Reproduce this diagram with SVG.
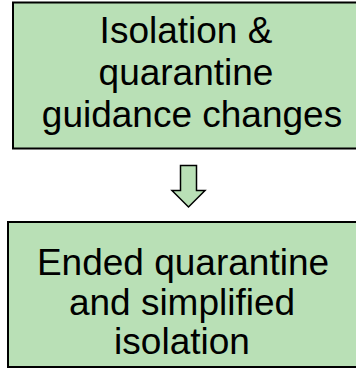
<svg xmlns="http://www.w3.org/2000/svg" width="356" height="369" viewBox="0 0 356 369">
<style>
.box{fill:#b9e0b6;stroke:#000;stroke-width:2}
.t{font-family:"Liberation Sans",Arial,sans-serif;font-size:37px;fill:#000;text-anchor:middle}
.arr{fill:#b9e0b6;stroke:#000;stroke-width:1.5;stroke-linejoin:miter}
</style>
<rect width="356" height="369" fill="#fff"/>
<g id="node-top">
<rect class="box" x="13" y="2.5" width="360" height="146"/>
<text class="t" x="186" y="43">Isolation &amp;</text>
<text class="t" x="186" y="85">quarantine</text>
<text class="t" x="192" y="127">guidance changes</text>
</g>
<g id="connectors">
<path class="arr" d="M180.5,165.5 H196.5 V190.5 H205 L188.5,207 L172,190.5 H180.5 Z"/>
</g>
<g id="node-bottom">
<rect class="box" x="8" y="222" width="360" height="145"/>
<text class="t" x="183" y="275">Ended quarantine</text>
<text class="t" x="182" y="315">and simplified</text>
<text class="t" x="182" y="354">isolation</text>
</g>
</svg>
